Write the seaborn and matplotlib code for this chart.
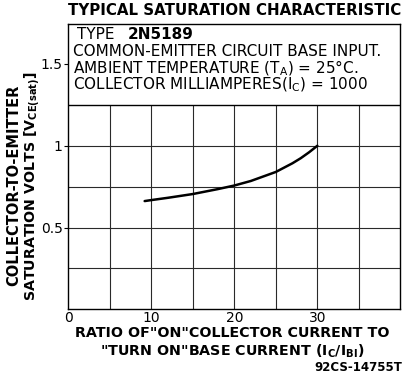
import matplotlib
matplotlib.use("Agg")
import matplotlib.pyplot as plt
import seaborn as sns
import pandas as pd

# Ratio of "on" collector current to "turn on" base current (IC/IBI)
current_ratio = [9.2, 10, 12, 15, 18, 20, 22, 25, 27, 28, 29, 30]
# Collector-to-emitter saturation volts, VCE(sat)
vce_sat = [0.662, 0.668, 0.682, 0.705, 0.735, 0.757, 0.785, 0.84, 0.893, 0.924, 0.96, 1.0]

x_tick_values = [0, 10, 20, 30]
x_tick_labels = ["0", "10", "20", "30"]
y_tick_values = [0.5, 1.0, 1.5]
y_tick_labels = ["0.5", "1", "1.5"]

sns.set_style("white")
plt.rcParams["font.family"] = ["DejaVu Sans"]
plt.rcParams["mathtext.default"] = "regular"
plt.rcParams["text.color"] = "black"
plt.rcParams["xtick.color"] = "black"
plt.rcParams["ytick.color"] = "black"

fig = plt.figure(figsize=(4.04, 3.75), dpi=100)
ax = fig.add_axes([0.169, 0.175, 0.822, 0.760])

df = pd.DataFrame({"ratio": current_ratio, "vce": vce_sat})
sns.lineplot(data=df, x="ratio", y="vce", ax=ax, color="black", linewidth=1.8)

x_max, y_max, grid_top = 40, 1.742, 1.25
ax.set_xlim(0, x_max)
ax.set_ylim(0, y_max)

# Chart grid occupies the lower part; the upper part holds the notes panel
grid_color = "#2a2a2a"
for gx in range(5, x_max, 5):
    ax.vlines(gx, 0, grid_top, color=grid_color, linewidth=0.8, zorder=1)
for gy in [0.25, 0.5, 0.75, 1.0]:
    ax.hlines(gy, 0, x_max, color=grid_color, linewidth=0.8, zorder=1)
ax.hlines(grid_top, 0, x_max, color="black", linewidth=1.0, zorder=1)

for s in ax.spines.values():
    s.set_color("black")
    s.set_linewidth(1.0)

ax.set_xticks(x_tick_values)
ax.set_xticklabels(x_tick_labels, fontsize=10)
ax.set_yticks(y_tick_values)
ax.set_yticklabels(y_tick_labels, fontsize=10)
ax.tick_params(axis="x", length=0, pad=1)
ax.tick_params(axis="y", length=3, width=0.8, direction="out", left=True, pad=1)
ax.set_xlabel("")
ax.set_ylabel("")

# Notes panel
tx = 0.55
fs = 11
ax.text(tx + 0.5, 1.683, "TYPE", fontsize=fs, va="center", ha="left")
ax.text(tx + 6.6, 1.683, "2N5189", fontsize=fs, fontweight="bold", va="center", ha="left")
ax.text(tx, 1.579, "COMMON-EMITTER CIRCUIT BASE INPUT.", fontsize=fs, va="center", ha="left")
ax.text(tx, 1.475, "AMBIENT TEMPERATURE (T$_A$) = 25°C.", fontsize=fs, va="center", ha="left")
ax.text(tx, 1.371, "COLLECTOR MILLIAMPERES(I$_C$) = 1000", fontsize=fs, va="center", ha="left")

# Title
fig.text(0.168, 0.973, "TYPICAL SATURATION CHARACTERISTIC", fontsize=10.8,
         fontweight="bold", ha="left", va="center")

# Axis titles
fig.text(0.033, 0.505, "COLLECTOR-TO-EMITTER", rotation=90, fontsize=10.5,
         fontweight="bold", ha="center", va="center")
fig.text(0.08, 0.505, "SATURATION VOLTS [V$_{CE(sat)}$]", rotation=90, fontsize=10.2,
         fontweight="bold", ha="center", va="center")
fig.text(0.575, 0.112, "RATIO OF\"ON\"COLLECTOR CURRENT TO", fontsize=10.3,
         fontweight="bold", ha="center", va="center")
fig.text(0.575, 0.064, "\"TURN ON\"BASE CURRENT (I$_C$/I$_{BI}$)", fontsize=10.3,
         fontweight="bold", ha="center", va="center")
fig.text(0.995, 0.02, "92CS-14755T", fontsize=8.5, fontweight="bold",
         ha="right", va="center")

fig.savefig("out.png", dpi=100)
